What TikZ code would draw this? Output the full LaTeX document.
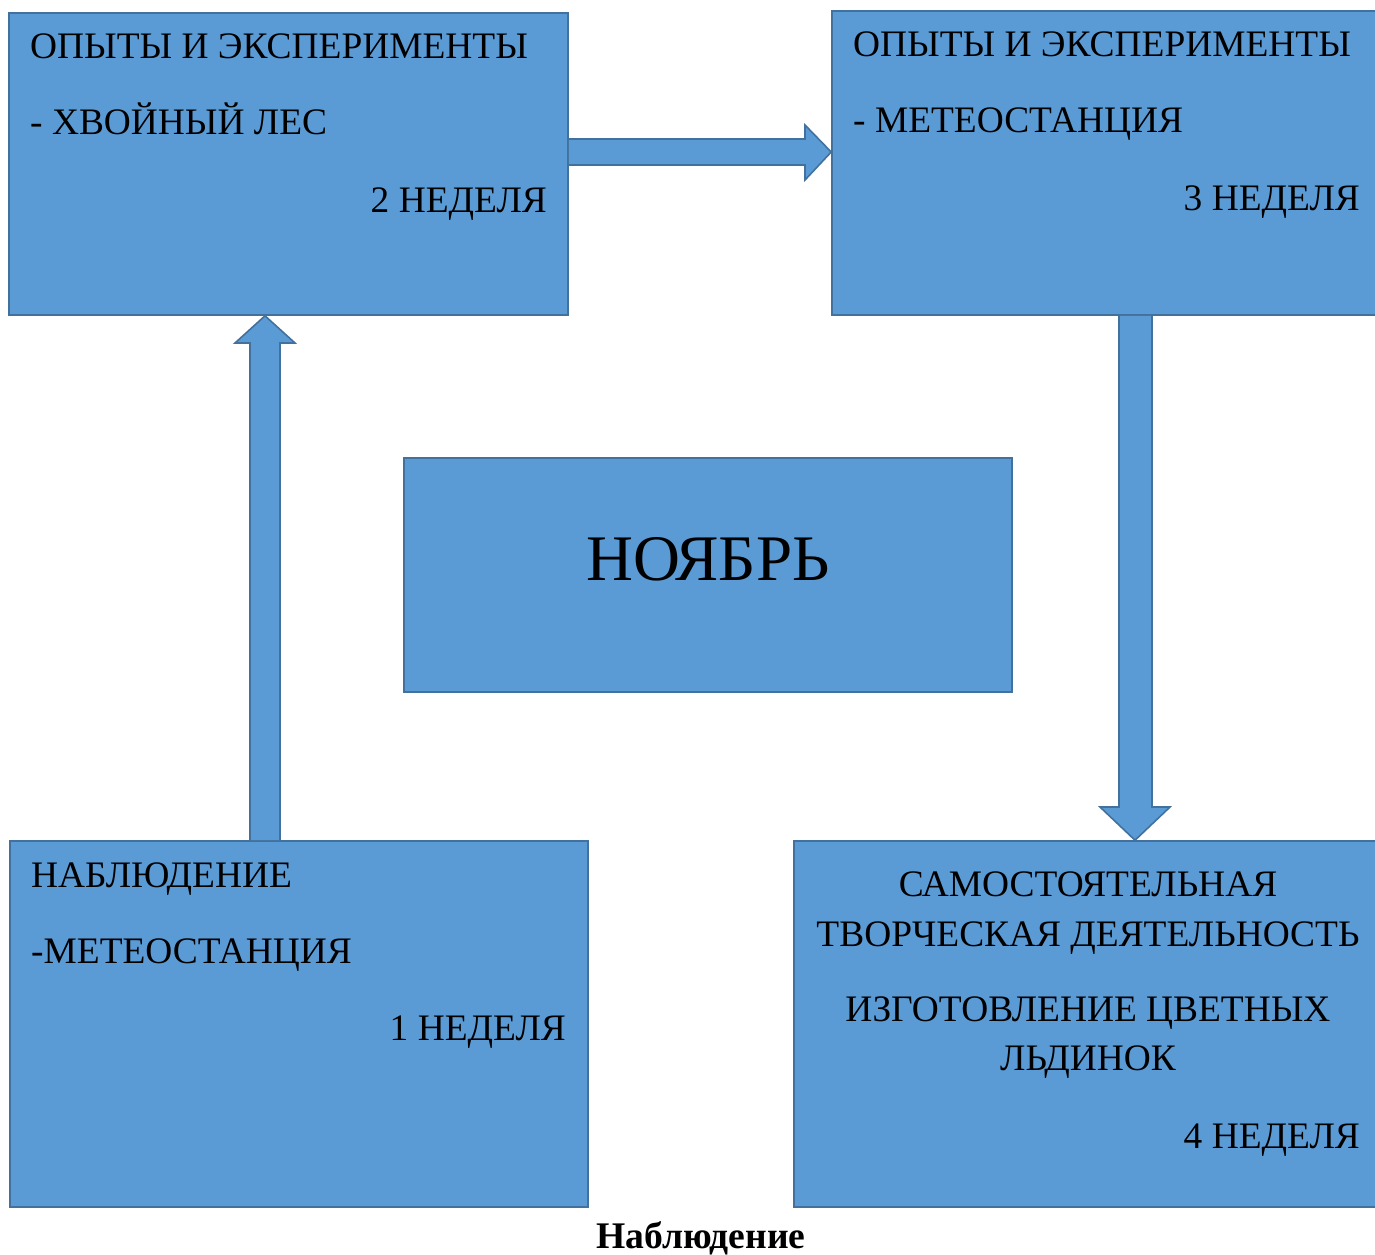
\documentclass[tikz,border=0pt]{standalone}
\usepackage{fontspec}
\setmainfont{Liberation Serif}
\usetikzlibrary{calc}
\definecolor{boxfill}{HTML}{5B9BD5}
\definecolor{boxline}{HTML}{41719C}
\begin{document}
\begin{tikzpicture}[x=1pt,y=-1pt,
  box/.style={draw=boxline,fill=boxfill,line width=1.6pt,inner sep=0pt},
  blockarrow/.style={draw=boxline,fill=boxfill,line width=1.6pt,line join=miter},
  txt/.style={inner sep=0pt,font=\fontsize{37.4}{44}\selectfont},
  bigtxt/.style={inner sep=0pt,font=\fontsize{65}{74}\selectfont}]
\useasboundingbox (0,0) rectangle (1375,1254);

% the five boxes
\node[box,minimum width=559pt,minimum height=302pt] (w2) at (288.5,164) {};
\node[box,minimum width=545pt,minimum height=304pt] (w3) at (1104.5,163) {};
\node[box,minimum width=608pt,minimum height=234pt] (month) at (708,575) {};
\node[box,minimum width=578pt,minimum height=366pt] (w1) at (299,1024) {};
\node[box,minimum width=583pt,minimum height=366pt] (w4) at (1085.5,1024) {};

% block arrows between the weeks
\draw[blockarrow] (w2.east |- 0,139) -- (805,139) -- (805,125)
  -- (w3.west |- 0,152) -- (805,180) -- (805,165) -- (w2.east |- 0,165);
\draw[blockarrow] (250,0 |- w1.north) -- (250,343) -- (235,343)
  -- (265,0 |- w2.south) -- (295,343) -- (280,343) -- (280,0 |- w1.north);
\draw[blockarrow] (1119,0 |- w3.south) -- (1119,807) -- (1100,807)
  -- (1135,0 |- w4.north) -- (1170,807) -- (1152,807) -- (1152,0 |- w3.south);

% texts of week 2
\node[txt,anchor=base west] (w2a) at (30,58) {ОПЫТЫ И ЭКСПЕРИМЕНТЫ};
\node[txt,anchor=base west] (w2b) at (30,134) {- ХВОЙНЫЙ ЛЕС};
\node[txt,anchor=base east] (w2c) at (547,212) {2 НЕДЕЛЯ};
% texts of week 3
\node[txt,anchor=base west] (w3a) at (853,56) {ОПЫТЫ И ЭКСПЕРИМЕНТЫ};
\node[txt,anchor=base west] (w3b) at (853,132) {- МЕТЕОСТАНЦИЯ};
\node[txt,anchor=base east] (w3c) at (1360,210) {3 НЕДЕЛЯ};
% month
\node[bigtxt,anchor=base] (mt) at (708,580) {НОЯБРЬ};
% texts of week 1
\node[txt,anchor=base west] (w1a) at (31,887) {НАБЛЮДЕНИЕ};
\node[txt,anchor=base west] (w1b) at (31,963) {-МЕТЕОСТАНЦИЯ};
\node[txt,anchor=base east] (w1c) at (566,1040) {1 НЕДЕЛЯ};
% texts of week 4
\node[txt,anchor=base] (w4a) at (1088,896) {САМОСТОЯТЕЛЬНАЯ};
\node[txt,anchor=base] (w4b) at (1088,946) {ТВОРЧЕСКАЯ ДЕЯТЕЛЬНОСТЬ};
\node[txt,anchor=base] (w4c) at (1088,1021) {ИЗГОТОВЛЕНИЕ ЦВЕТНЫХ};
\node[txt,anchor=base] (w4d) at (1088,1070) {ЛЬДИНОК};
\node[txt,anchor=base east] (w4e) at (1360,1148) {4 НЕДЕЛЯ};

% caption
\node[txt,anchor=base,font=\fontsize{37.6}{44}\selectfont\bfseries] (cap) at (701,1248) {Наблюдение};
\end{tikzpicture}
\end{document}
